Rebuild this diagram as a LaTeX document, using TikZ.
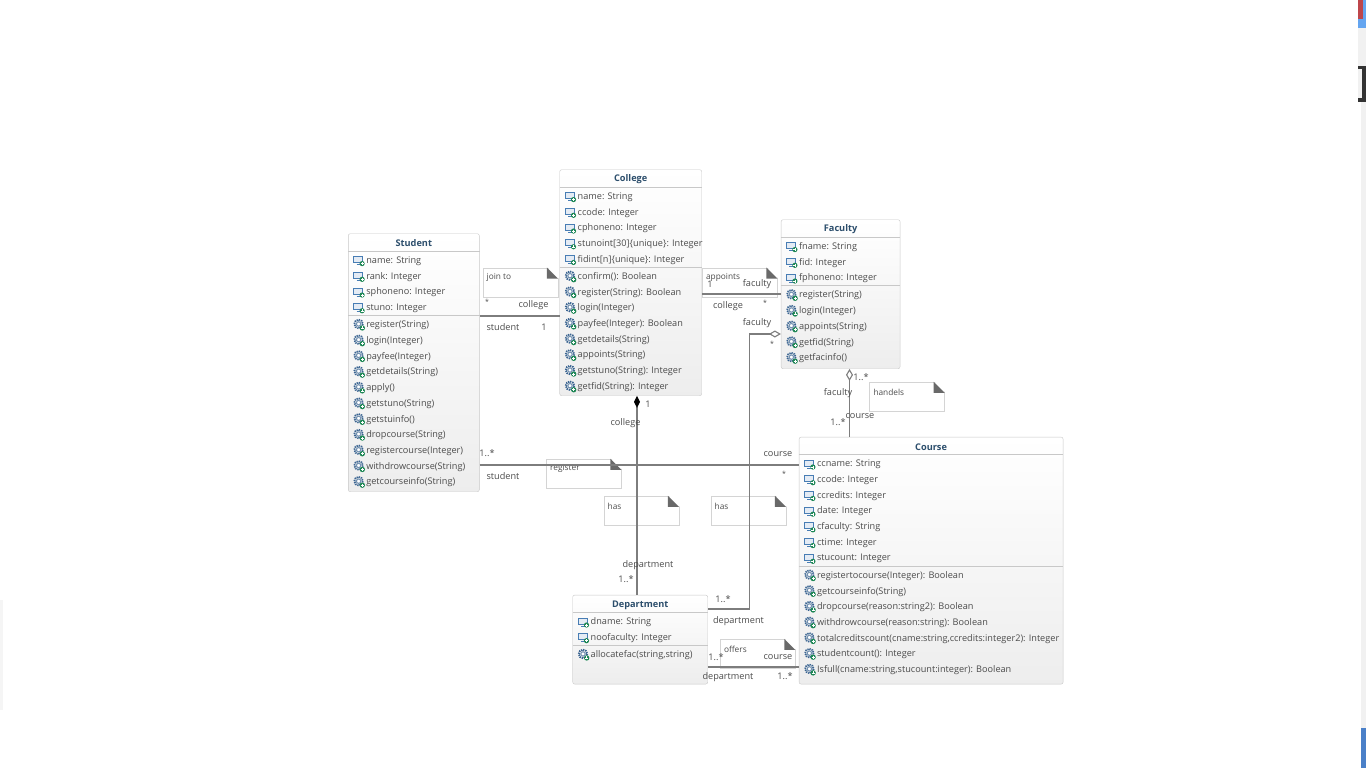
\documentclass[tikz,border=0pt]{standalone}
\usepackage{fontspec}
\setmainfont{Open Sans}
\usetikzlibrary{arrows.meta,positioning,calc}
\definecolor{cTitle}{RGB}{44,78,108}
\definecolor{cText}{RGB}{75,75,75}
\definecolor{cEdge}{RGB}{200,200,200}
\definecolor{cLine}{RGB}{125,125,125}
\definecolor{cNote}{RGB}{212,212,212}
\definecolor{cFold}{RGB}{105,105,105}
\definecolor{cIcon}{RGB}{72,125,180}
\definecolor{cGear}{RGB}{58,100,145}
\definecolor{cPlus}{RGB}{30,135,85}
\definecolor{cStrip}{RGB}{241,241,241}
\definecolor{cBarBlue}{RGB}{100,165,240}
\definecolor{cBarRed}{RGB}{190,70,75}
\definecolor{cBarLow}{RGB}{74,128,200}
\tikzset{
  classbox/.style={rectangle,rounded corners=2pt,draw=cEdge,top color=white,
                   bottom color=black!7,anchor=north west,inner sep=0pt},
  classtitle/.style={font=\fontsize{9.2}{11}\selectfont\bfseries,text=cTitle,inner sep=0pt,yshift=-1pt},
  rowtext/.style={font=\fontsize{9.15}{11}\selectfont,text=cText,anchor=west,inner sep=0pt,yshift=-1.4pt},
  rolelabel/.style={font=\fontsize{9.15}{11}\selectfont,text=cText,inner sep=0pt,yshift=-1pt},
  starlabel/.style={rolelabel,font=\fontsize{7}{8}\selectfont},
  notebox/.style={rectangle,draw=cNote,fill=white,inner sep=0pt,
                  minimum width=75pt,minimum height=29pt},
  notetext/.style={font=\fontsize{8.3}{10}\selectfont,text=cText,anchor=west,inner sep=0pt,yshift=-1pt},
  divider/.style={draw=cEdge,line width=0.9pt},
  assoc/.style={draw=cLine,line width=1.1pt},
  attricon/.pic={
    \draw[cIcon,fill=cIcon!15,line width=0.9pt] (-5,-3) rectangle (4,3);
    \draw[cIcon,line width=0.8pt] (-2,5) -- (2,5);
    \fill[cPlus] (3.5,4) circle (2.6);
    \draw[white,line width=0.5pt] (2,4) -- (5,4) (3.5,2.5) -- (3.5,5.5);
  },
  opicon/.pic={
    \draw[cGear,line width=1.8pt,dash pattern=on 1.3pt off 0.9pt] (0,0) circle (4.3);
    \draw[cGear!70,fill=white,line width=1.1pt] (0,0) circle (2.2);
    \fill[cPlus] (3.7,4) circle (2.7);
    \draw[white,line width=0.5pt] (2.2,4) -- (5.2,4) (3.7,2.5) -- (3.7,5.5);
  }
}
% class title, rules, attribute rows and operation rows
\newcommand{\classrows}[5]{
  \node[classtitle] (#1title) at ($(#1.north)+(0,9)$) {#2};
  \draw[divider] ($(#1.north west)+(0,17.5)$) -- ($(#1.north east)+(0,17.5)$);
  \draw[divider] ($(#1.north west)+(0,{26.1+#3*15.72-7})$) -- ($(#1.north east)+(0,{26.1+#3*15.72-7})$);
  \foreach \r [count=\i from 0] in {#4}{
    \node[rowtext] (#1attr\i) at ($(#1.north west)+(18,{26.1+\i*15.72})$) {\r};
    \pic at ($(#1.north west)+(10.5,{26.1+\i*15.72})$) {attricon};
  }
  \foreach \r [count=\i from 0] in {#5}{
    \node[rowtext] (#1op\i) at ($(#1.north west)+(18,{26.1+(#3+\i)*15.72+1.5})$) {\r};
    \pic at ($(#1.north west)+(10.5,{26.1+(#3+\i)*15.72+1.5})$) {opicon};
  }
}
% corner fold and text of a note
\newcommand{\notefold}[2]{
  \fill[white] ($(#1.north east)+(-11,-1)$) -- ($(#1.north east)+(1,-1)$) -- ($(#1.north east)+(1,11)$) -- cycle;
  \fill[cFold] ($(#1.north east)+(-11,0)$) -- ($(#1.north east)+(0,11)$) -- ($(#1.north east)+(-11,11)$) -- cycle;
  \node[notetext] (#1text) at ($(#1.north west)+(4,9)$) {#2};
}
\begin{document}
\begin{tikzpicture}[x=1pt,y=-1pt]
  \useasboundingbox (0,0) rectangle (1366,768);

  % bits of the window around the diagram
  \fill[cStrip] (1358,0) rectangle (1366,66);
  \fill[cStrip] (1361,66) rectangle (1366,728);
  \fill[cBarBlue] (1358,0) rectangle (1366,28);
  \fill[cBarRed] (1358,0) rectangle (1363,19);
  \fill[black!80] (1358,66) rectangle (1366,102);
  \fill[cStrip] (1358,69) rectangle (1362,98);
  \fill[cBarLow] (1361,728) rectangle (1366,768);
  \fill[black!4] (0,600) rectangle (3,710);

  \node[classbox,minimum width=142pt,minimum height=226pt] (college) at (559.5,169.5) {};
  \node[classbox,minimum width=131pt,minimum height=258pt,
        below left=64pt and 80pt of college.north west,anchor=north east] (student) {};
  \node[classbox,minimum width=119pt,minimum height=149pt,
        below right=50pt and 79pt of college.north east,anchor=north west] (faculty) {};
  \node[classbox,minimum width=264pt,minimum height=247pt,
        below right=68pt and 18pt of faculty.south west,anchor=north west] (course) {};
  \node[classbox,minimum width=135pt,minimum height=89pt,
        below left=158pt and 91pt of course.north west,anchor=north east] (department) {};

  \node[notebox,below right=34pt and 3pt of student.north east] (joinnote) {};
  \node[notebox,below right=98pt and 0pt of college.north east] (appointsnote) {};
  \node[notebox,below right=13pt and -31pt of faculty.south east] (handelsnote) {};
  \node[notebox,below left=22pt and 177.5pt of course.north west] (registernote) {};
  \node[notebox,below left=59pt and 120pt of course.north west] (hasleftnote) {};
  \node[notebox,below left=59pt and 13pt of course.north west] (hasrightnote) {};
  \node[notebox,below right=44pt and 12pt of department.north east] (offersnote) {};
  \notefold{joinnote}{join to}
  \notefold{appointsnote}{appoints}
  \notefold{handelsnote}{handels}
  \notefold{registernote}{register}
  \notefold{hasleftnote}{has}
  \notefold{hasrightnote}{has}
  \notefold{offersnote}{offers}

  \draw[assoc] (student.east |- 0,316) -- (college.west |- 0,316);
  \draw[assoc] (college.east |- 0,294) -- (faculty.west |- 0,294);
  \draw[assoc] (student.east |- 0,465) -- (course.west |- 0,465);
  \draw[assoc] (department.east |- 0,667) -- (course.west |- 0,667);
  \draw[assoc,{Diamond[length=12pt,width=6pt,color=black]}-] (637,0 |- college.south) -- (637,0 |- department.north);
  \draw[assoc,{Diamond[open,length=12pt,width=7pt]}-] (faculty.west |- 0,334) -- ++(-31,0) |- (department.east |- 0,609);
  \draw[assoc,{Diamond[open,length=12pt,width=7pt]}-] (849.5,0 |- faculty.south) -- (849.5,0 |- course.north);

  \classrows{student}{Student}{4}
    {name: String,rank: Integer,sphoneno: Integer,stuno: Integer}
    {register(String),login(Integer),payfee(Integer),getdetails(String),apply(),
     getstuno(String),getstuinfo(),dropcourse(String),registercourse(Integer),
     withdrowcourse(String),getcourseinfo(String)}
  \classrows{college}{College}{5}
    {name: String,ccode: Integer,cphoneno: Integer,stunoint[30]\{unique\}: Integer,
     fidint[n]\{unique\}: Integer}
    {confirm(): Boolean,register(String): Boolean,login(Integer),payfee(Integer): Boolean,
     getdetails(String),appoints(String),getstuno(String): Integer,getfid(String): Integer}
  \classrows{faculty}{Faculty}{3}
    {fname: String,fid: Integer,fphoneno: Integer}
    {register(String),login(Integer),appoints(String),getfid(String),getfacinfo()}
  \classrows{course}{Course}{7}
    {ccname: String,ccode: Integer,ccredits: Integer,date: Integer,cfaculty: String,
     ctime: Integer,stucount: Integer}
    {registertocourse(Integer): Boolean,getcourseinfo(String),
     dropcourse(reason:string2): Boolean,withdrowcourse(reason:string): Boolean,
     {totalcreditscount(cname:string,ccredits:integer2): Integer},studentcount(): Integer,
     {Isfull(cname:string,stucount:integer): Boolean}}
  \classrows{department}{Department}{2}
    {dname: String,noofaculty: Integer}
    {{allocatefac(string,string)}}

  % role names and multiplicities
  \node[starlabel] (joinmult) at (487,301) {*};
  \node[rolelabel] (joincollege) at (533.5,304) {college};
  \node[rolelabel] (joinstudent) at (503,326) {student};
  \node[rolelabel] (joinone) at (544,326) {1};
  \node[rolelabel] (appointsone) at (710,283) {1};
  \node[rolelabel] (appointsfaculty) at (757,283) {faculty};
  \node[rolelabel] (appointscollege) at (728,305) {college};
  \node[starlabel] (appointsmult) at (765,302) {*};
  \node[rolelabel] (hasfaculty) at (757,322) {faculty};
  \node[starlabel] (hasfacmult) at (772,343) {*};
  \node[rolelabel] (handelsmult) at (861,376) {1..*};
  \node[rolelabel] (handelsfaculty) at (838,392) {faculty};
  \node[rolelabel] (handelscourse) at (860,415) {course};
  \node[rolelabel] (handelscmult) at (838,421) {1..*};
  \node[rolelabel] (hasone) at (648,403) {1};
  \node[rolelabel] (hascollege) at (625.5,422) {college};
  \node[rolelabel] (regmult) at (487,452) {1..*};
  \node[rolelabel] (regstudent) at (503,475) {student};
  \node[rolelabel] (regcourse) at (778,453) {course};
  \node[starlabel] (regcmult) at (784,473) {*};
  \node[rolelabel] (hasdept) at (648,564) {department};
  \node[rolelabel] (hasdmult) at (626,578) {1..*};
  \node[rolelabel] (facdmult) at (723,598) {1..*};
  \node[rolelabel] (facdept) at (738.5,620) {department};
  \node[rolelabel] (offersmult) at (716,656) {1..*};
  \node[rolelabel] (offerscourse) at (778,656) {course};
  \node[rolelabel] (offersdept) at (728,676) {department};
  \node[rolelabel] (offerscmult) at (785,675) {1..*};

\end{tikzpicture}
\end{document}
